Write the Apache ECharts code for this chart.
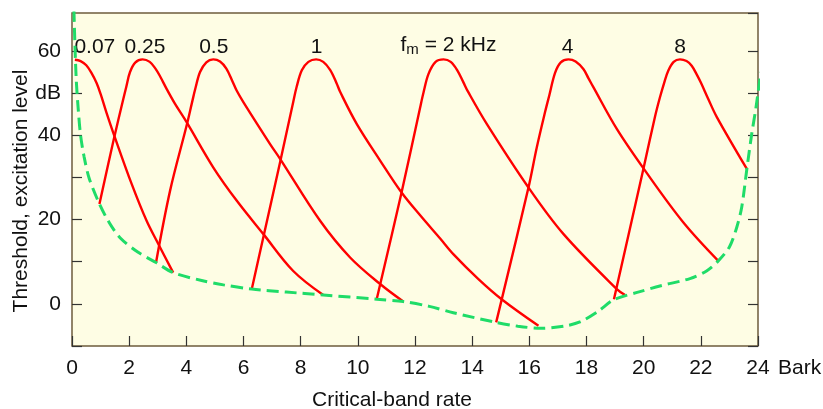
<!DOCTYPE html>
<html>
<head>
<meta charset="utf-8">
<script src="https://cdn.jsdelivr.net/npm/echarts@6.0.0/dist/echarts.min.js"></script>
<style>
  html, body { margin: 0; padding: 0; background: #fff; }
  #chart { width: 823px; height: 409px; }
</style>
</head>
<body>
<div id="chart"></div>
<script>
// excitation level curves, [critical-band rate (Bark), level (dB)]
const curve007 = [[0.1, 57.9], [0.3, 57.6], [0.5, 56.6], [0.68, 54.8], [0.86, 52.4], [1.0, 49.8], [1.2, 45.5], [1.5, 39.5], [2.09, 28.4], [2.61, 19.7], [3.02, 14.2], [3.54, 7.4]]
const curve025 = [[0.96, 23.7], [1.45, 38.7], [1.78, 48.2], [1.9, 51.5], [2.03, 55], [2.22, 57.3], [2.47, 58], [2.72, 57.4], [2.92, 55.8], [3.08, 54], [3.31, 51], [3.6, 47.5], [4.01, 43.1], [4.94, 32.4], [5.76, 24.5], [6.69, 16.6], [7.74, 7.8], [8.79, 2.1]]
const curve05 = [[2.94, 9.8], [3.43, 26.8], [4.01, 42.3], [4.2, 47.8], [4.32, 51.2], [4.48, 55], [4.7, 57.3], [4.94, 58], [5.18, 57.5], [5.4, 55.8], [5.6, 53], [5.76, 50.6], [6.0, 47.8], [6.93, 37.9], [7.28, 34.4], [8.68, 19.7], [9.73, 11], [10.78, 4.7], [11.59, 0.55]]
const curve1 = [[6.29, 3.5], [6.69, 15.7], [7.28, 33.6], [7.74, 47.9], [7.86, 51.5], [8.04, 55.4], [8.27, 57.4], [8.54, 58], [8.79, 57.4], [9.03, 55.5], [9.26, 52.3], [9.38, 50.3], [9.96, 42.7], [10.78, 34], [11.53, 26.4], [12.18, 21], [12.88, 15.5], [13.34, 11.8], [14.2, 6], [15.03, 1.1], [16.32, -5.2]]
const curve2 = [[10.66, 1.1], [11.53, 26.4], [12.18, 46.6], [12.3, 50.2], [12.47, 54.5], [12.72, 57.4], [13.0, 58], [13.25, 57.4], [13.48, 55.4], [13.69, 52.6], [13.85, 50.4], [14.51, 42.7], [15.97, 27.6], [17.19, 16.6], [19.06, 3.5], [19.35, 2.1]]
const curve4 = [[14.84, -4.4], [15.97, 27.6], [16.26, 37.1], [16.55, 45.5], [16.7, 49.5], [16.9, 54.8], [17.1, 57.3], [17.37, 58], [17.62, 57.5], [17.89, 55.7], [18.07, 53.5], [18.24, 51.4], [19.06, 41.5], [20.05, 31.6], [21.39, 19.3], [22.61, 10.2]]
const curve8 = [[18.96, 1.1], [19.99, 32], [20.4, 44.5], [20.57, 49], [20.72, 52.5], [20.86, 55.3], [21.05, 57.4], [21.27, 58], [21.5, 57.6], [21.68, 56.5], [21.85, 54.5], [22.0, 52.5], [22.26, 48.6], [22.56, 44.3], [23.61, 32]]

// threshold in quiet
const threshold = [[0.05, 74], [0.1, 62], [0.15, 53], [0.22, 46], [0.3, 40], [0.42, 35], [0.6, 29.8], [0.96, 23.7], [1.3, 19.3], [1.68, 15.7], [2.3, 12.3], [2.94, 9.8], [3.54, 7.4], [4.5, 5.6], [5.3, 4.5], [6.29, 3.5], [7.5, 2.8], [8.79, 2.1], [10.66, 1.1], [11.59, 0.55], [12.5, -0.6], [13.34, -2.1], [14.84, -4.4], [15.6, -5.3], [16.4, -5.8], [17.2, -5.3], [17.77, -4.3], [18.4, -1.8], [18.96, 1.0], [19.87, 2.9], [20.6, 4.3], [21.62, 6.0], [22.2, 7.8], [22.61, 10.2], [23.0, 13.5], [23.25, 18], [23.43, 22.9], [23.61, 32], [23.78, 40.3], [23.93, 46.6], [24.1, 55]]

// peak labels
const peakNames = ['0.07', '0.25', '0.5', '1', '{t|f}{s|m}{t| = 2 kHz}', '4', '8']
const peakX = [0.8, 2.55, 4.96, 8.56, 13.17, 17.34, 21.27]
const peakY = [61, 61, 61, 61, 61, 61, 61]

const yTickValues = [0, 20, 40, 50, 60]
const yTickText = ['0', '20', '40', 'dB', '60']

const FONT = 'Liberation Sans, Arial, sans-serif'
const curves = [curve007, curve025, curve05, curve1, curve2, curve4, curve8]

const chart = echarts.init(document.getElementById('chart'))

const tickStyle = { color: '#333', width: 1.2 }

chart.setOption({
  animation: false,
  backgroundColor: '#fff',
  grid: {
    left: 72,
    right: 65,
    top: 13,
    bottom: 63,
    show: true,
    backgroundColor: '#fefde4',
    borderColor: '#6e5c3c',
    borderWidth: 1.5
  },
  xAxis: {
    type: 'value',
    min: 0,
    max: 24,
    interval: 2,
    axisLine: { show: false, onZero: false },
    splitLine: { show: false },
    axisTick: { inside: true, length: 10, lineStyle: tickStyle },
    axisLabel: { fontSize: 21, fontFamily: FONT, color: '#111', margin: 12 }
  },
  yAxis: [{
    type: 'value',
    min: -10,
    max: 69,
    interval: 10,
    axisLine: { show: false },
    splitLine: { show: false },
    axisTick: { inside: true, length: 10, lineStyle: tickStyle },
    axisLabel: {
      fontSize: 21, fontFamily: FONT, color: '#111', margin: 11,
      padding: [4, 0, 0, 0],
      showMaxLabel: false,
      formatter: (v) => {
        const i = yTickValues.indexOf(v)
        return i >= 0 ? yTickText[i] : ''
      }
    }
  }, {
    type: 'value',
    position: 'right',
    min: -10,
    max: 69,
    interval: 10,
    axisLine: { show: false },
    splitLine: { show: false },
    axisTick: { inside: true, length: 10, lineStyle: tickStyle },
    axisLabel: { show: false }
  }],
  series: [
    ...curves.map(c => ({
      type: 'line',
      data: c,
      smooth: 0.35,
      symbol: 'none',
      silent: true,
      lineStyle: { color: '#ff0000', width: 2.4 }
    })),
    {
      type: 'line',
      data: threshold,
      smooth: 0.3,
      symbol: 'none',
      silent: true,
      lineStyle: { color: '#1fdc68', width: 3, type: [12, 6] }
    },
    {
      type: 'scatter',
      symbolSize: 0,
      silent: true,
      itemStyle: { color: '#111' },
      data: peakX.map((x, i) => ({ value: [x, peakY[i]], name: peakNames[i] })),
      label: {
        show: true,
        position: 'inside',
        formatter: (p) => p.name,
        fontSize: 21,
        fontFamily: FONT,
        color: '#111',
        opacity: 1,
        textBorderWidth: 0,
        rich: {
          t: { fontSize: 21, fontFamily: FONT, color: '#111', lineHeight: 22, padding: [0, 0, 3, 0] },
          s: { fontSize: 15, fontFamily: FONT, color: '#111', lineHeight: 15, verticalAlign: 'bottom' }
        }
      }
    }
  ],
  graphic: [
    {
      type: 'text',
      x: 778,
      y: 358,
      silent: true,
      style: { text: 'Bark', font: '21px ' + FONT, fill: '#111', align: 'left', verticalAlign: 'top', textAlign: 'left', textVerticalAlign: 'top' }
    },
    {
      type: 'text',
      x: 392,
      y: 400,
      silent: true,
      style: { text: 'Critical-band rate', font: '21px ' + FONT, fill: '#111', align: 'center', verticalAlign: 'middle', textAlign: 'center', textVerticalAlign: 'middle' }
    },
    {
      type: 'text',
      x: 21,
      y: 191,
      rotation: Math.PI / 2,
      silent: true,
      style: { text: 'Threshold, excitation level', font: '21px ' + FONT, fill: '#111', align: 'center', verticalAlign: 'middle', textAlign: 'center', textVerticalAlign: 'middle' }
    }
  ]
})
</script>
</body>
</html>
